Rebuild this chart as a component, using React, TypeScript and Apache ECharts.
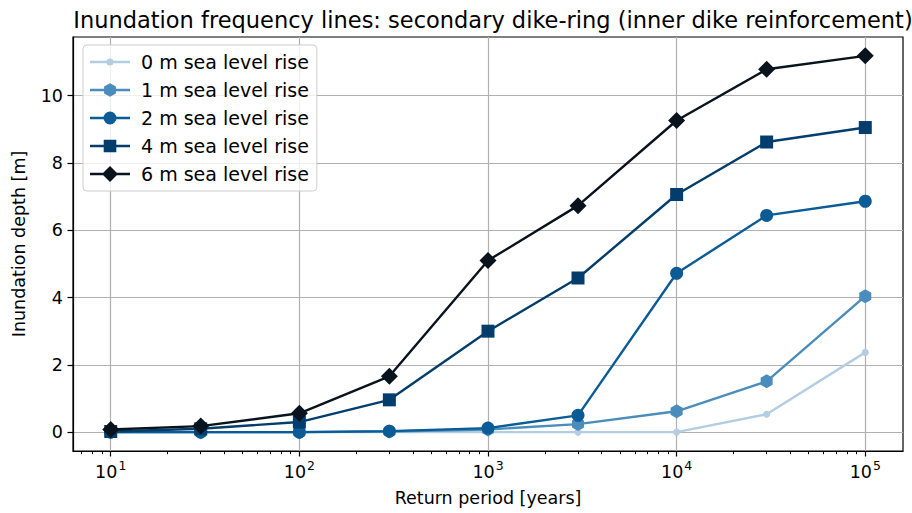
import React, { useEffect, useRef } from "react";
import * as echarts from "echarts";

const returnPeriods = [10, 30, 100, 300, 1000, 3000, 10000, 30000, 100000];
const slr0 = [0, 0, 0, 0, 0, 0, 0, 0.53, 2.37];
const slr1 = [0, 0, 0, 0.02, 0.08, 0.24, 0.62, 1.51, 4.04];
const slr2 = [0, 0, 0, 0.03, 0.12, 0.5, 4.72, 6.44, 6.86];
const slr4 = [0.02, 0.1, 0.3, 0.96, 3.0, 4.58, 7.06, 8.62, 9.05];
const slr6 = [0.08, 0.18, 0.56, 1.66, 5.1, 6.73, 9.26, 10.78, 11.18];
const seriesNames = [
  "0 m sea level rise",
  "1 m sea level rise",
  "2 m sea level rise",
  "4 m sea level rise",
  "6 m sea level rise",
];
const majorX = [10, 100, 1000, 10000, 100000];
const yTicks = [0, 2, 4, 6, 8, 10];

const FONT = "DejaVu Sans";
const FS = 17.5;
const HEX = "path://M0,-100 L86.6,-50 L86.6,50 L0,100 L-86.6,50 L-86.6,-50 Z";

// legend icons: line + marker inside a 40x16 box
const BOX = "M0,0 L0,0 M40,16 L40,16 ";
const LINE = "M0,6.8 L40,6.8 L40,9.2 L0,9.2 Z ";
const circ = (r: number) => `M${20 - r},8 A${r},${r} 0 1,1 ${20 + r},8 A${r},${r} 0 1,1 ${20 - r},8 Z `;
const legendIcons = [
  "path://" + BOX + LINE + circ(3.5),
  "path://" + BOX + LINE + "M20,1.2 L25.9,4.6 L25.9,11.4 L20,14.8 L14.1,11.4 L14.1,4.6 Z",
  "path://" + BOX + LINE + circ(6.5),
  "path://" + BOX + LINE + "M13.7,1.7 L26.3,1.7 L26.3,14.3 L13.7,14.3 Z",
  "path://" + BOX + LINE + "M20,0 L28,8 L20,16 L12,8 Z",
];

export default function App() {
  const ref = useRef<HTMLDivElement>(null);
  useEffect(() => {
    document.body.style.margin = "0";
    if (!ref.current) return;
    const chart = echarts.init(ref.current, null, { renderer: "svg" });
    const minorX: number[] = [];
    for (let k = 0; k <= 5; k++) {
      for (let m = 2; m <= 9; m++) {
        const v = m * Math.pow(10, k);
        if (v > 6.31 && v < 158489) minorX.push(v);
      }
    }
    const mk = (arr: number[]) => returnPeriods.map((x, i) => [x, arr[i]]);
    const styles = [
      { color: "#b3cde3", symbol: "circle", size: 7, data: slr0 },
      { color: "#4a8cbb", symbol: HEX, size: [12, 14], data: slr1 },
      { color: "#0a5b96", symbol: "circle", size: 13, data: slr2 },
      { color: "#023d6b", symbol: "rect", size: 13, data: slr4 },
      { color: "#08131e", symbol: "diamond", size: 17, data: slr6 },
    ];
    const option: any = {
      animation: false,
      backgroundColor: "#ffffff",
      textStyle: { fontFamily: FONT },
      title: {
        text: "Inundation frequency lines: secondary dike-ring (inner dike reinforcement)",
        left: 488,
        top: 3,
        textAlign: "center",
        textStyle: { fontFamily: FONT, fontSize: 22.5, fontWeight: "normal", color: "#000" },
      },
      grid: {
        left: 73,
        top: 37,
        width: 830,
        height: 414,
        show: true,
        borderColor: "#000",
        borderWidth: 1.2,
        backgroundColor: "transparent",
      },
      legend: {
        orient: "vertical",
        left: 83,
        top: 45,
        padding: [6, 8, 6, 7],
        itemWidth: 40,
        itemHeight: 16,
        itemGap: 6,
        backgroundColor: "rgba(255,255,255,0.8)",
        borderColor: "#cccccc",
        borderWidth: 1,
        borderRadius: 4,
        textStyle: { fontFamily: FONT, fontSize: 19, color: "#000", padding: [0, 0, 0, 6], lineHeight: 22 },
        data: seriesNames.map((n, i) => ({ name: n, icon: legendIcons[i] })),
      },
      xAxis: [
        {
          type: "log",
          logBase: 10,
          min: 6.31,
          max: 158489,
          name: "Return period [years]",
          nameLocation: "middle",
          nameGap: 38,
          nameTextStyle: { fontFamily: FONT, fontSize: FS, color: "#000" },
          axisLine: { show: true, onZero: false, lineStyle: { color: "#000", width: 1.2 } },
          axisTick: { show: true, length: 5.5, customValues: majorX, lineStyle: { color: "#000", width: 1.2 } },
          axisLabel: {
            customValues: majorX,
            margin: 8,
            color: "#000",
            formatter: (v: number) => `{b|10}{s|${Math.round(Math.log10(v))}}`,
            rich: {
              b: { fontFamily: FONT, fontSize: FS, color: "#000", verticalAlign: "bottom", lineHeight: 22 },
              s: { fontFamily: FONT, fontSize: 12.5, color: "#000", verticalAlign: "top", lineHeight: 22, padding: [0, 0, 0, 1] },
            },
          },
          splitLine: { show: true, lineStyle: { color: "#b0b0b0", width: 1.2 } },
        },
        {
          type: "log",
          logBase: 10,
          min: 6.31,
          max: 158489,
          position: "bottom",
          axisLine: { show: false, onZero: false },
          axisTick: { show: true, length: 3.2, customValues: minorX, lineStyle: { color: "#000", width: 1 } },
          axisLabel: { show: false },
          splitLine: { show: false },
        },
      ],
      yAxis: {
        type: "value",
        min: -0.56,
        max: 11.74,
        name: "Inundation depth [m]",
        nameLocation: "middle",
        nameGap: 45,
        nameTextStyle: { fontFamily: FONT, fontSize: FS, color: "#000" },
        axisLine: { show: true, onZero: false, lineStyle: { color: "#000", width: 1.2 } },
        axisTick: { show: true, length: 5.5, customValues: yTicks, lineStyle: { color: "#000", width: 1.2 } },
        axisLabel: { customValues: yTicks, margin: 10, fontFamily: FONT, fontSize: FS, color: "#000" },
        splitLine: { show: true, lineStyle: { color: "#b0b0b0", width: 1.2 } },
      },
      series: styles.map((s, i) => ({
        name: seriesNames[i],
        type: "line",
        xAxisIndex: 0,
        data: mk(s.data),
        symbol: s.symbol,
        symbolSize: s.size,
        showSymbol: true,
        itemStyle: { color: s.color, borderWidth: 0 },
        lineStyle: { color: s.color, width: 2.4 },
        emphasis: { disabled: true },
        z: 2 + i,
      })),
    };
    chart.setOption(option);
    return () => chart.dispose();
  }, []);
  return <div ref={ref} style={{ width: 912, height: 513 }} />;
}
